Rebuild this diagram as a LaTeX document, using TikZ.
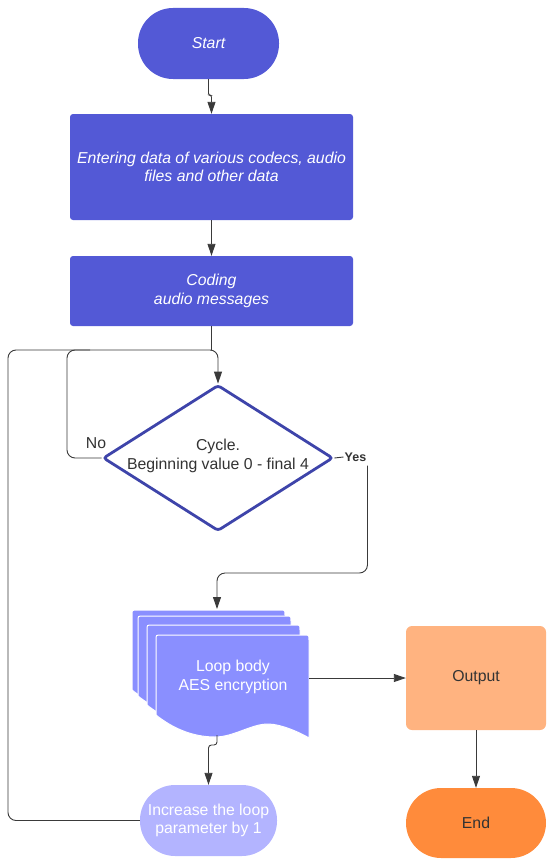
\documentclass[tikz,border=0pt]{standalone}
\usepackage{fontspec}
\setmainfont{Liberation Sans}
\usetikzlibrary{arrows.meta,shapes.geometric}
\definecolor{blueA}{HTML}{5359D6}
\definecolor{diaC}{HTML}{3E44AA}
\definecolor{docC}{HTML}{8A8FFF}
\definecolor{incC}{HTML}{B3B4FF}
\definecolor{outC}{HTML}{FFB380}
\definecolor{endC}{HTML}{FF8B3B}
\definecolor{txtC}{HTML}{333333}
\definecolor{lineC}{HTML}{3A3A3A}
\newcommand\docsheet[2]{%
  \begin{scope}[shift={(#1,#2)}]
    \draw[sheet] (0,80) -- (0,5) .. controls (0,0) .. (5,0) -- (148,0)
      .. controls (153,0) .. (153,5) -- (153,103)
      .. controls (145,98) and (125,89) .. (112,89)
      .. controls (95,89) and (78,102) .. (59,102)
      .. controls (35,102) and (15,92) .. (0,80) -- cycle;
  \end{scope}}
\begin{document}
\begin{tikzpicture}[x=1pt,y=-1pt,
  txt/.style={font=\fontsize{15.8}{18.5}\selectfont, align=center},
  bluebox/.style={txt, fill=blueA, text=white, font=\fontsize{15.8}{18.5}\selectfont\itshape, inner sep=0pt},
  stadium/.style={rounded corners=35pt, minimum height=71pt, inner sep=0pt},
  conn/.style={draw=lineC, line width=0.9pt},
  arr/.style={conn, -{Triangle[length=12pt,width=8pt]}},
  sheet/.style={fill=docC, draw=white, line width=1pt}]
\useasboundingbox (0,0) rectangle (546,859);

% nodes
\node[bluebox, stadium, minimum width=141pt] (start) at (208.5,43.5) {Start};
\node[bluebox, rounded corners=3pt, minimum width=283pt, minimum height=106pt] (enter) at (211.5,167)
  {Entering data of various codecs, audio\\files and other data};
\node[bluebox, rounded corners=3pt, minimum width=283pt, minimum height=70pt] (coding) at (211.5,291)
  {Coding\\audio messages};
\node[diamond, draw=diaC, fill=white, line width=2.8pt, minimum width=230pt, minimum height=146pt,
  inner sep=0pt, rounded corners=3pt] (dia) at (218,458) {};
\node[txt, text=txtC] (diatext) at (218,456) {Cycle.\\Beginning value 0 - final 4};
\node[txt, text=txtC] (nol) at (96,443) {No};
\node[font=\fontsize{12.5}{15}\selectfont\bfseries, text=txtC, anchor=west, inner sep=1pt] (yes) at (343.5,457) {Yes};

\docsheet{132}{610}
\docsheet{138}{616}
\docsheet{147}{625}
\docsheet{156}{635}
\node[minimum width=153pt, minimum height=103pt, inner sep=0pt] (doc) at (232.5,686.5) {};
\node[txt, text=white] (doctext) at (233,677) {Loop body\\AES encryption};

\node[txt, fill=outC, text=txtC, rounded corners=6pt, minimum width=140pt, minimum height=104pt, inner sep=0pt] (out) at (476,678) {Output};
\node[txt, fill=endC, text=txtC, stadium, minimum width=140pt, minimum height=70pt] (end) at (476,823) {End};
\node[txt, fill=incC, text=white, stadium, minimum width=137pt] (inc) at (208.5,820.5) {Increase the loop\\parameter by 1};

% coordinates
\coordinate (lo) at (8,350);
\coordinate (li) at (67,350);
\coordinate (lm) at (90,350);
\coordinate (ybend) at (300,573);
\coordinate (dtop) at (217,609);
\coordinate (dbot) at (217,735);

% connectors
\draw[arr, rounded corners=2pt] (start.south) -- ++(0,16) -| (enter.north);
\draw[arr] (enter.south) -- (coding.north);
\draw[conn] (coding.south) -- (coding.south |- lo);
\draw[arr, rounded corners=8pt] (inc.west) -| (lo) -| (dia.north);
\draw[conn, rounded corners=8pt] (dia.west) -| (li) -- (lm);
\draw[conn] (dia.east) -- (yes.west);
\draw[arr, rounded corners=8pt] ([yshift=-3pt]yes.south east) -- (yes.south east |- ybend) -| (dtop);
\draw[arr] (doc.east |- out.west) -- (out.west);
\draw[arr, rounded corners=3pt] (dbot) -- ++(0,10) -| (inc.north);
\draw[arr] (out.south) -- (end.north);
\end{tikzpicture}
\end{document}
